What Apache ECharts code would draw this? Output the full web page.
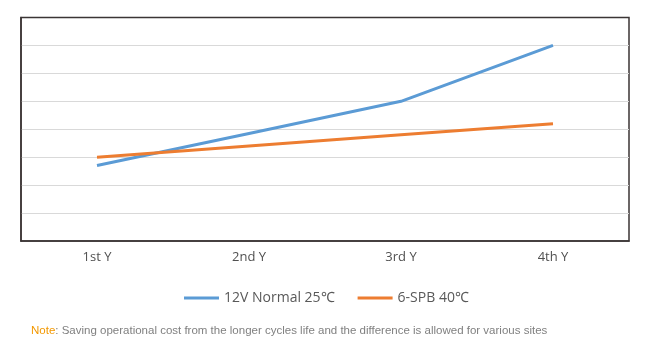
<!DOCTYPE html>
<html>
<head>
<meta charset="utf-8">
<script src="https://cdn.jsdelivr.net/npm/echarts@6/dist/echarts.min.js"></script>
<style>html,body{margin:0;padding:0;background:#fff}#c{width:650px;height:350px}</style>
</head>
<body>
<div id="c"></div>
<script>
var categories = ['1st Y', '2nd Y', '3rd Y', '4th Y'];
var seriesNames = ['12V Normal 25\u2103', '6-SPB 40\u2103'];
var normalValues = [2.7, 3.85, 5.0, 7.0];
var spbValues = [3.0, 3.4, 3.8, 4.2];
var noteLabel = 'Note';
var noteText = ': Saving operational cost from the longer cycles life and the difference is allowed for various sites';

var chart = echarts.init(document.getElementById('c'), null, {renderer: 'canvas'});
chart.setOption({
  animation: false,
  backgroundColor: '#fff',
  grid: {
    left: 21, right: 21, top: 17.5, bottom: 109,
    show: true, borderColor: '#3b3535', borderWidth: 1.5, containLabel: false
  },
  legend: {
    data: seriesNames,
    left: 179, top: 286,
    icon: 'rect', itemWidth: 35, itemHeight: 3, itemGap: 23,
    textStyle: {fontFamily: 'Open Sans', fontSize: 14, color: '#595959'}
  },
  title: {
    text: '{a|' + noteLabel + '}{b|' + noteText + '}',
    left: 26, top: 320,
    textStyle: {
      fontWeight: 'normal',
      rich: {
        a: {fontFamily: 'Liberation Sans', fontSize: 11.5, fontWeight: 'normal', color: '#f39800'},
        b: {fontFamily: 'Liberation Sans', fontSize: 11.5, fontWeight: 'normal', color: '#808080'}
      }
    }
  },
  xAxis: {
    type: 'category', data: categories, boundaryGap: true,
    axisLine: {show: true, lineStyle: {color: '#3b3535', width: 1.5}},
    axisTick: {show: false},
    axisLabel: {fontFamily: 'Open Sans', fontSize: 13, color: '#505050', margin: 10},
    splitLine: {show: false}
  },
  yAxis: {
    type: 'value', min: 0, max: 8, interval: 1,
    axisLabel: {show: false}, axisTick: {show: false},
    axisLine: {show: true, lineStyle: {color: '#3b3535', width: 1.5}},
    splitLine: {show: true, showMinLine: false, showMaxLine: false, lineStyle: {color: '#d9d9d9', width: 1}}
  },
  series: [
    {name: seriesNames[0], type: 'line', data: normalValues, symbol: 'none',
     lineStyle: {color: '#5b9bd5', width: 3}, itemStyle: {color: '#5b9bd5'}},
    {name: seriesNames[1], type: 'line', data: spbValues, symbol: 'none',
     lineStyle: {color: '#ed7d31', width: 3}, itemStyle: {color: '#ed7d31'}}
  ]
});
</script>
</body>
</html>
